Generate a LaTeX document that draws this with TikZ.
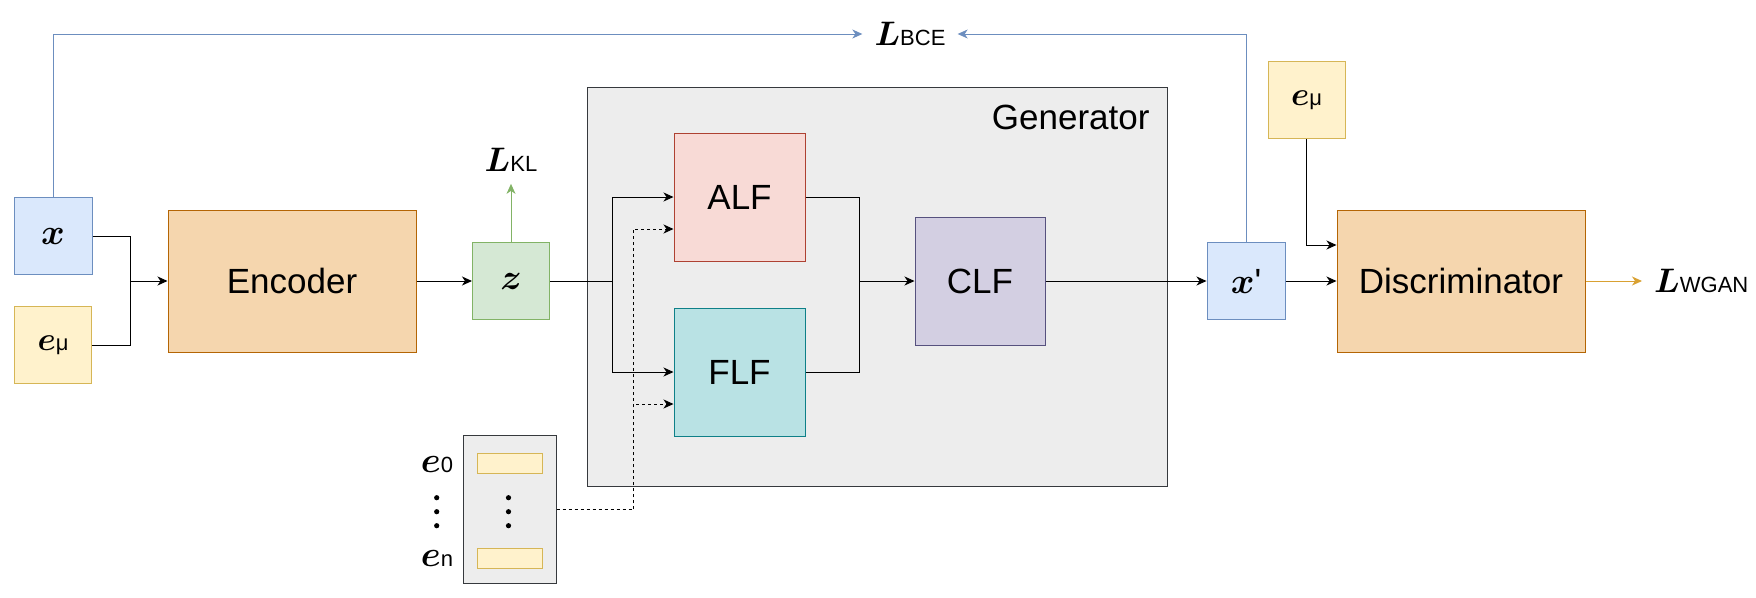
\documentclass[tikz,border=0pt]{standalone}
\usepackage{fix-cm}
\usepackage{amsmath}
\usepackage{bm}
\usepackage{fontspec}
\setsansfont{Liberation Sans}
\usepackage{tikz}
\usetikzlibrary{positioning,arrows.meta}
\definecolor{softblue}{HTML}{DAE8FC}
\definecolor{blueline}{HTML}{6C8EBF}
\definecolor{softyellow}{HTML}{FFF2CC}
\definecolor{yellowline}{HTML}{D6B656}
\definecolor{softorange}{HTML}{F5D6AE}
\definecolor{orangeline}{HTML}{B46504}
\definecolor{softgreen}{HTML}{D5E8D4}
\definecolor{greenline}{HTML}{82B366}
\definecolor{softred}{HTML}{F8DAD6}
\definecolor{redline}{HTML}{AE4132}
\definecolor{softteal}{HTML}{B9E2E4}
\definecolor{tealline}{HTML}{0E8088}
\definecolor{softpurple}{HTML}{D3CFE2}
\definecolor{purpleline}{HTML}{56517E}
\definecolor{softgrey}{HTML}{EDEDED}
\definecolor{greyline}{HTML}{36393D}
\definecolor{wganline}{HTML}{D9A132}
\newcommand{\blocktext}{\fontsize{35}{40}\selectfont\sffamily}
\newcommand{\vartext}{\fontsize{36}{42}\selectfont}
\newcommand{\embtext}{\fontsize{33}{40}\selectfont}
\newcommand{\subtext}{\fontsize{22}{24}\selectfont\sffamily}
\newcommand{\lossterm}[1]{{\fontsize{34}{40}\selectfont$\bm{L}$}{\subtext #1}}
\newcommand{\embterm}[1]{$\bm{e}${\subtext #1}}
\tikzset{
    blockbox/.style={
        draw,
        line width=1pt,
        inner sep=0pt,
        align=center
    },
    bluebox/.style={
        blockbox,
        fill=softblue,
        draw=blueline,
        font=\vartext,
        minimum width=78pt,
        minimum height=77pt
    },
    yellowbox/.style={
        blockbox,
        fill=softyellow,
        draw=yellowline,
        font=\embtext,
        minimum width=77pt,
        minimum height=77pt
    },
    greenbox/.style={
        blockbox,
        fill=softgreen,
        draw=greenline,
        font=\vartext,
        minimum width=77pt,
        minimum height=77pt
    },
    orangebox/.style={
        blockbox,
        fill=softorange,
        draw=orangeline,
        font=\blocktext,
        minimum width=248pt,
        minimum height=142pt
    },
    redbox/.style={
        blockbox,
        fill=softred,
        draw=redline,
        font=\blocktext,
        minimum width=131pt,
        minimum height=128pt
    },
    tealbox/.style={
        blockbox,
        fill=softteal,
        draw=tealline,
        font=\blocktext,
        minimum width=131pt,
        minimum height=128pt
    },
    purplebox/.style={
        blockbox,
        fill=softpurple,
        draw=purpleline,
        font=\blocktext,
        minimum width=130pt,
        minimum height=128pt
    },
    greybox/.style={
        blockbox,
        fill=softgrey,
        draw=greyline
    },
    barbox/.style={
        blockbox,
        fill=softyellow,
        draw=yellowline,
        minimum width=65pt,
        minimum height=20pt
    },
    lossnode/.style={inner sep=12pt},
    link/.style={draw, line width=1pt},
    arrow/.style={link, -{Stealth[length=10pt,width=9pt,inset=3pt]}}
}

\begin{document}
\begin{tikzpicture}[
    x=1pt, y=-1pt,
    dashline/.style={link, dash pattern=on 3pt off 3pt},
    dasharrow/.style={arrow, dash pattern=on 3pt off 3pt},
    bcearrow/.style={arrow, draw=blueline},
    klarrow/.style={arrow, draw=greenline},
    wganarrow/.style={arrow, draw=wganline}
]
\useasboundingbox (0,0) rectangle (1756,597);

% INPUTS
\node[bluebox] (xin) at (53,236) {$\bm{x}$};
\node[yellowbox] (emuin) at (53,345) {\embterm{μ}};

% ENCODER
\node[orangebox] (enc) at (292,281) {Encoder};
\node[greenbox] (z) at (511,281) {$\bm{z}$};
\node[lossnode] (lkl) at (511,160) {\lossterm{KL}};

% GENERATOR
\node[greybox, minimum width=580pt, minimum height=399pt] (gen) at (877,286.5) {};
\node[font=\blocktext, anchor=east] (genlabel) at (1153,117) {Generator};
\node[redbox] (alf) at (739.5,197) {ALF};
\node[tealbox] (flf) at (739.5,372) {FLF};
\node[purplebox] (clf) at (980,281) {CLF};

% EMBEDDINGS
\node[greybox, minimum width=93pt, minimum height=148pt] (emb) at (509.5,509) {};
\node[barbox] (bar0) at (509.5,463) {};
\node[barbox] (barn) at (509.5,558) {};
\node[font=\vartext] (e0) at (437,465) {\embterm{0}};
\node[font=\vartext] (en) at (437,558) {\embterm{n}};
\foreach \yy in {497.7,511.7,525.7} {
    \fill (508.5,\yy) circle (2.6pt);
    \fill (436.7,\yy) circle (2.6pt);
}

% OUTPUT
\node[bluebox] (xp) at (1246,281) {$\bm{x}${\blocktext\textquotesingle}};
\node[yellowbox] (emuout) at (1306.5,100) {\embterm{μ}};
\node[orangebox] (disc) at (1461,281) {Discriminator};
\node[lossnode, anchor=west] (lwgan) at (1642,281) {\lossterm{WGAN}};
\node[lossnode] (lbce) at (910,34) {\lossterm{BCE}};

% CONNECTORS
\coordinate (jin) at (130,281);
\draw[link] (xin.east) -| (jin);
\draw[link] (emuin.east) -| (jin);
\draw[arrow] (jin) -- (enc.west);
\draw[arrow] (enc) -- (z);
\draw[klarrow] (z) -- (lkl);

\coordinate (jz) at (612,281);
\draw[link] (z.east) -- (jz);
\draw[arrow] (jz) |- (alf.west);
\draw[arrow] (jz) |- (flf.west);

\coordinate (jd) at (633,509);
\draw[dashline] (emb.east) -- (jd);
\draw[dasharrow] (jd) |- ([yshift=-32pt]alf.west);
\draw[dasharrow] (jd) |- ([yshift=-32pt]flf.west);

\coordinate (jm) at (859,281);
\draw[link] (alf.east) -| (jm);
\draw[link] (flf.east) -| (jm);
\draw[arrow] (jm) -- (clf.west);
\draw[arrow] (clf) -- (xp);
\draw[arrow] (xp) -- (disc);
\draw[arrow] (emuout.south) |- ([yshift=36pt]disc.west);
\draw[wganarrow] (disc) -- (lwgan);

% LOSSES
\draw[bcearrow] (xin.north) |- (lbce.west);
\draw[bcearrow] (xp.north) |- (lbce.east);

\end{tikzpicture}
\end{document}
